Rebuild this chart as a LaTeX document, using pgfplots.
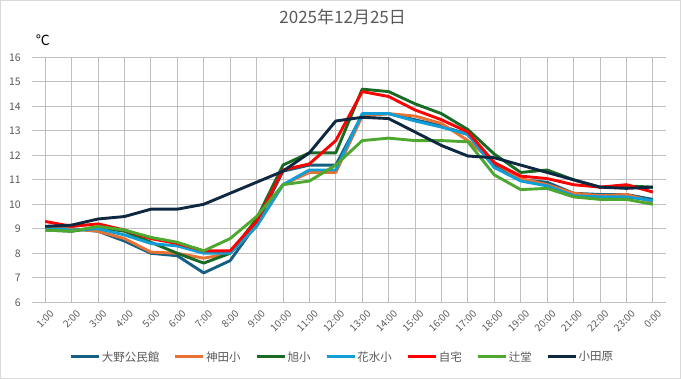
\documentclass[border=0pt]{standalone}
\usepackage{pgfplots}
\usepackage{pgfplotstable}
\pgfplotsset{compat=1.18}
\usepackage{fontspec}
\setmainfont{Noto Sans CJK JP}
\definecolor{cA}{HTML}{156082}
\definecolor{cB}{HTML}{E97132}
\definecolor{cC}{HTML}{196B24}
\definecolor{cD}{HTML}{0F9ED5}
\definecolor{cE}{HTML}{FF0000}
\definecolor{cF}{HTML}{4EA72E}
\definecolor{cG}{HTML}{0E2841}
\definecolor{txt}{HTML}{595959}
\definecolor{grid}{HTML}{D9D9D9}
\pgfplotstableread{
i  a     b     c     d     e     f     g
0  9.05  9.0   8.95  9.0   9.3   8.95  9.1
1  9.0   9.0   8.9   8.95  9.1   8.9   9.15
2  8.9   8.9   9.05  9.0   9.2   9.1   9.4
3  8.5   8.6   8.9   8.75  8.95  8.95  9.5
4  8.0   8.05  8.45  8.4   8.6   8.65  9.8
5  7.9   8.0   8.0   8.3   8.4   8.45  9.8
6  7.2   7.8   7.6   8.0   8.1   8.1   10.0
7  7.7   8.0   8.0   8.0   8.1   8.6   10.45
8  9.2   9.1   9.4   9.1   9.3   9.5   10.9
9  11.35 10.8  11.6  10.8  11.4  10.8  11.35
10 11.6  11.3  12.1  11.4  11.65 10.95 12.1
11 11.6  11.3  12.1  11.4  12.6  11.6  13.4
12 13.65 13.6  14.7  13.7  14.6  12.6  13.55
13 13.7  13.7  14.6  13.7  14.4  12.7  13.5
14 13.45 13.6  14.1  13.4  13.85 12.6  12.95
15 13.2  13.3  13.7  13.15 13.45 12.6  12.4
16 12.85 12.6  13.05 12.85 12.95 12.55 11.97
17 11.6  11.7  12.05 11.5  11.7  11.2  11.9
18 11.0  11.05 11.3  10.95 11.15 10.6  11.6
19 10.9  10.8  11.4  10.75 11.05 10.65 11.3
20 10.45 10.45 11.0  10.35 10.8  10.3  11.0
21 10.4  10.35 10.7  10.3  10.7  10.2  10.7
22 10.4  10.4  10.75 10.3  10.8  10.2  10.65
23 10.2  10.1  10.7  10.15 10.5  10.0  10.7
}\data
\begin{document}
\begin{tikzpicture}
\path[use as bounding box] (0,0) rectangle (681pt,379pt);
\draw[grid, line width=0.8pt] (0.5pt,0.5pt) rectangle (680.5pt,378.5pt);
\begin{axis}[
  at={(32pt,76.7pt)}, anchor=south west,
  scale only axis, width=634pt, height=245pt,
  xmin=-0.5, xmax=23.5, ymin=6, ymax=16,
  ytick={6,7,...,16},
  xtick={0,...,23},
  xticklabels={1:00,2:00,3:00,4:00,5:00,6:00,7:00,8:00,9:00,10:00,11:00,12:00,13:00,14:00,15:00,16:00,17:00,18:00,19:00,20:00,21:00,22:00,23:00,0:00},
  axis line style={draw=none},
  ymajorgrids, grid style={grid, line width=0.8pt},
  major tick length=0pt,
  tick style={draw=none},
  /pgf/number format/assume math mode=true,
  yticklabel style={font=\fontsize{10.5}{12}\selectfont, text=txt, inner sep=0pt, anchor=east, xshift=-11pt},
  xticklabel style={font=\fontsize{10}{12}\selectfont, text=txt, inner sep=0pt, rotate=45, anchor=north east, xshift=-2pt, yshift=-8pt},
  every axis plot/.append style={line width=2.9pt, line join=round, mark=none},
  legend columns=7,
  legend style={at={(0.489,-0.223)}, anchor=center, draw=none, fill=none,
    font=\fontsize{11.5}{13}\selectfont, text=txt,
    /tikz/every even column/.append style={column sep=13pt},
    nodes={inner sep=1.5pt}},
  legend image code/.code={\draw[#1] (0pt,0pt) -- (28pt,0pt);},
  clip=false,
]
\addplot[cA] table[x=i,y=a]{\data};
\addlegendentry{大野公民館}
\addplot[cB] table[x=i,y=b]{\data};
\addlegendentry{神田小}
\addplot[cC] table[x=i,y=c]{\data};
\addlegendentry{旭小}
\addplot[cD] table[x=i,y=d]{\data};
\addlegendentry{花水小}
\addplot[cE] table[x=i,y=e]{\data};
\addlegendentry{自宅}
\addplot[cF] table[x=i,y=f]{\data};
\addlegendentry{辻堂}
\addplot[cG] table[x=i,y=g]{\data};
\addlegendentry{小田原}
\node[font=\fontsize{14}{16}\selectfont, text=black] at (axis description cs:0.017,1.0706) {℃};
\node[font=\fontsize{17}{20}\selectfont, text=txt] at (axis description cs:0.49,1.1645) {2025年12月25日};
\end{axis}
\end{tikzpicture}
\end{document}
